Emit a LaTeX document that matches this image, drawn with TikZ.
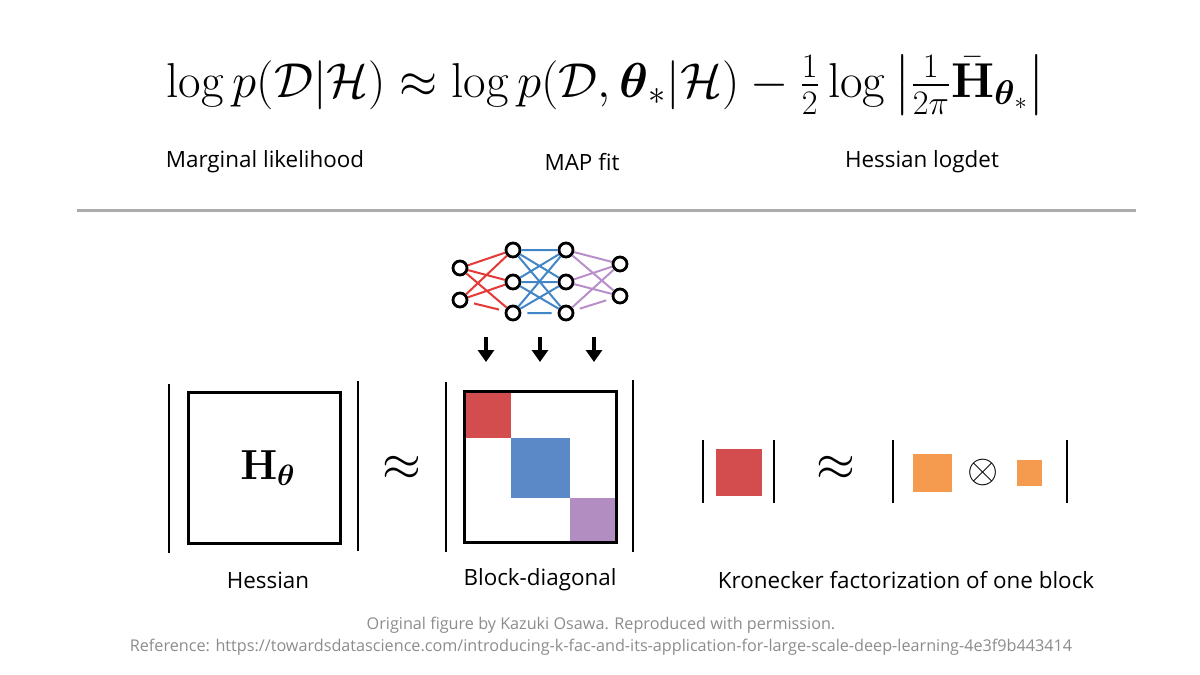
\RequirePackage{fix-cm}
\documentclass[tikz,border=0pt]{standalone}
\usepackage{amsmath,amssymb}
\usepackage[no-math]{fontspec}
\setmainfont{Open Sans}
\usetikzlibrary{arrows.meta}
\definecolor{blockred}{HTML}{D34C4E}
\definecolor{blockblue}{HTML}{5B88C6}
\definecolor{blockpurple}{HTML}{B18DC1}
\definecolor{kronorange}{HTML}{F59B50}
\definecolor{edgered}{HTML}{E53935}
\definecolor{edgeblue}{HTML}{4286C8}
\definecolor{edgepurple}{HTML}{B98FC9}
\definecolor{rulegray}{HTML}{ABABAB}
\definecolor{notegray}{HTML}{8C8C8C}
\def\detbar(#1)(#2){\draw[line width=1.4pt] (#1) -- (#2);}

\begin{document}
\begin{tikzpicture}[x=0.5pt, y=-0.5pt,
		neuron/.style={circle, draw=black, line width=1.4pt, minimum size=7pt, inner sep=0pt},
		layeredge/.style={line width=1pt, shorten >=3pt, shorten <=3pt},
		caption/.style={font=\fontsize{11.2}{13}\selectfont},
		note/.style={font=\fontsize{8.1}{10}\selectfont, text=notegray},
		blockarrow/.style={line width=2pt, -{Triangle[width=8pt, length=6pt]}}]
		%%%%% START %%%%%
		
		\useasboundingbox (0, 0) rectangle (1200, 675);
		
		\node (formula) at (606, 85) {\fontsize{24.5}{30}\selectfont $\log p(\mathcal{D}|\mathcal{H}) \approx \log p(\mathcal{D}, \boldsymbol{\theta}_*|\mathcal{H}) - \tfrac{1}{2}\log\left|\tfrac{1}{2\pi}\bar{\mathbf{H}}_{\boldsymbol{\theta}_*}\right|$};
		
		\node[caption] (marglik) at (265, 162) {Marginal likelihood};
		\node[caption] (mapfit) at (582, 162) {MAP fit};
		\node[caption] (logdet) at (922, 162) {Hessian logdet};
		
		\draw[line width=1.5pt, color=rulegray] (77, 210) -- (1136, 210);
		
		% network
		\node[neuron] (i1) at (460, 268) {};
		\node[neuron] (i2) at (460, 300) {};
		\node[neuron] (a1) at (513, 250) {};
		\node[neuron] (a2) at (513, 282) {};
		\node[neuron] (a3) at (513, 313) {};
		\node[neuron] (b1) at (566, 250) {};
		\node[neuron] (b2) at (566, 282) {};
		\node[neuron] (b3) at (566, 313) {};
		\node[neuron] (o1) at (620, 264) {};
		\node[neuron] (o2) at (620, 296) {};
		
		\draw[layeredge, color=edgered] (i1) -- (a1) (i1) -- (a2) (i1) -- (a3) (i2) -- (a1) (i2) -- (a2) (i2) -- (a3);
		\draw[layeredge, color=edgeblue] (a1) -- (b1) (a1) -- (b2) (a1) -- (b3) (a2) -- (b1) (a2) -- (b2) (a2) -- (b3) (a3) -- (b1) (a3) -- (b2) (a3) -- (b3);
		\draw[layeredge, color=edgepurple] (b1) -- (o1) (b1) -- (o2) (b2) -- (o1) (b2) -- (o2) (b3) -- (o1) (b3) -- (o2);
		
		\coordinate (r1) at (486, 337);
		\coordinate (r2) at (540, 337);
		\coordinate (r3) at (594, 337);
		\coordinate (s1) at (486, 362);
		\coordinate (s2) at (540, 362);
		\coordinate (s3) at (594, 362);
		\draw[blockarrow] (r1) -- (s1);
		\draw[blockarrow] (r2) -- (s2);
		\draw[blockarrow] (r3) -- (s3);
		
		% hessian
		\detbar(169, 384)(169, 553)
		\detbar(358, 381)(358, 551)
		\draw[line width=1.5pt] (188, 392) rectangle (340, 543);
		\node (hess) at (268, 468) {\fontsize{21}{24}\selectfont $\mathbf{H}_{\boldsymbol{\theta}}$};
		\node (approxa) at (402, 468) {\fontsize{25}{28}\selectfont $\approx$};
		
		% block diagonal
		\detbar(446, 382)(446, 552)
		\detbar(633, 380)(633, 552)
		\fill[blockred] (464, 391) rectangle (511, 438);
		\fill[blockblue] (511, 438) rectangle (570, 498);
		\fill[blockpurple] (570, 498) rectangle (616, 542);
		\draw[line width=1.5pt] (464, 391) rectangle (616, 542);
		
		% kronecker
		\detbar(703, 440)(703, 503)
		\detbar(774, 440)(774, 503)
		\fill[blockred] (716, 449) rectangle (762, 496);
		\node (approxb) at (836, 468) {\fontsize{25}{28}\selectfont $\approx$};
		\detbar(893, 440)(893, 503)
		\detbar(1067, 440)(1067, 503)
		\fill[kronorange] (913, 454) rectangle (952, 492);
		\node (kron) at (983, 472) {\fontsize{20}{24}\selectfont $\otimes$};
		\fill[kronorange] (1017, 460) rectangle (1042, 486);
		
		\node[caption] (hesslabel) at (268, 580) {Hessian};
		\node[caption] (blocklabel) at (540, 580) {Block-diagonal};
		\node[caption] (kronlabel) at (906, 580) {Kronecker factorization of one block};
		
		\node[note] (credit) at (601, 625) {Original figure by Kazuki Osawa. Reproduced with permission.};
		\node[note] (source) at (601, 647) {Reference: https://towardsdatascience.com/introducing-k-fac-and-its-application-for-large-scale-deep-learning-4e3f9b443414};
		
		%%%%% END %%%%%
	\end{tikzpicture}
\end{document}
